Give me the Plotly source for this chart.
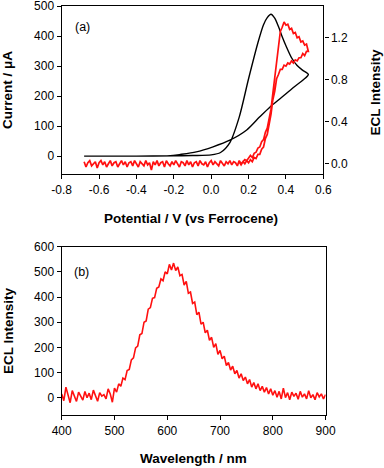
import plotly.graph_objects as go

# ---- (a) cyclic voltammogram, black (left axis, uA) ----
cv_potential = [-0.68, -0.40, -0.20, -0.10, 0.00, 0.05, 0.10, 0.15, 0.20, 0.25, 0.28,
                0.30, 0.32, 0.34, 0.36, 0.38, 0.40, 0.43, 0.46, 0.49, 0.52,
                0.49, 0.44, 0.37, 0.315, 0.26, 0.19, 0.10, 0.01, -0.08, -0.17,
                -0.22, -0.40, -0.68]
cv_current = [0, 0, 1, 2, 4, 12, 45, 130, 258, 378, 438,
              462, 473, 460, 432, 398, 368, 328, 302, 286, 272,
              253, 229, 192, 164, 131, 87, 53, 31, 14, 5,
              1, 0, 0]

# ---- (a) ECL vs potential, red (right axis) ----
ecl_fwd_start, ecl_step = -0.68, 0.01
ecl_fwd = [
    0.02, -0.03, 0.01, 0.03, -0.02, 0.00, 0.02, -0.04, 0.01, 0.03,
    -0.01, 0.02, -0.03, 0.00, 0.03, -0.02, 0.01, 0.02, -0.03, 0.00,
    0.03, -0.01, 0.02, -0.03, 0.01, 0.02, -0.02, 0.03, 0.00, -0.03,
    0.02, 0.00, -0.02, 0.03, -0.01, 0.01, -0.06, 0.02, -0.01, 0.03,
    -0.02, 0.01, 0.02, -0.03, 0.03, 0.00, -0.02, 0.02, -0.01, 0.03,
    0.00, -0.03, 0.02, 0.01, -0.02, 0.03, -0.01, 0.02, -0.03, 0.01,
    0.02, -0.02, 0.03, 0.00, -0.01, 0.02, -0.03, 0.01, 0.03, -0.01,
    0.02, 0.00, -0.02, 0.03, 0.01, -0.02, 0.02, 0.00, 0.03, -0.01,
    0.02, 0.01, -0.02, 0.03, 0.00, 0.02, 0.04, 0.03,
    0.05, 0.08, 0.06, 0.10, 0.11, 0.15, 0.16, 0.21, 0.23, 0.30,
    0.34, 0.44, 0.52, 0.67, 0.82, 1.01, 1.13, 1.26, 1.30, 1.35,
    1.32, 1.33, 1.28, 1.29, 1.24, 1.25, 1.20, 1.21, 1.16, 1.17,
    1.13, 1.14, 1.07]
ecl_rev_start = 0.51
ecl_rev = [
    1.07, 1.03, 1.05, 1.01, 1.01, 0.98, 0.99, 0.96, 0.98, 0.95,
    0.96, 0.93, 0.94, 0.90, 0.90, 0.85, 0.81, 0.69, 0.61, 0.47,
    0.39, 0.28, 0.24, 0.16, 0.14, 0.09, 0.09, 0.05, 0.06, 0.02,
    0.04, 0.01, 0.03, 0.00, 0.02, -0.01, 0.02]

# ---- (b) ECL spectrum ----
wl_start, wl_step = 400, 4
spectrum = [
    15, -12, 42, 5, -20, 28, 2, -15, 22, 8,
    -10, 25, 0, 18, -8, 30, 4, -14, 20, 6,
    12, -5, 35, 15, -18, 38, 22, 55, 45, 78,
    72, 108, 112, 150, 158, 198, 205, 250, 255, 300,
    305, 352, 358, 395, 398, 435, 440, 472, 465, 500,
    492, 530, 508, 535, 505, 520, 485, 490, 448, 462,
    415, 420, 375, 380, 330, 340, 292, 300, 258, 268,
    228, 240, 200, 215, 172, 188, 155, 165, 128, 140,
    110, 125, 95, 108, 78, 95, 68, 82, 55, 72,
    42, 60, 35, 55, 28, 45, 22, 40, 15, 35,
    10, 28, 2, 25, -5, 38, 0, 20, -8, 22,
    5, 18, -6, 25, 2, 15, -5, 28, 0, 12,
    -8, 20, 3, 15, -5, 12]

fwd_x = [round(ecl_fwd_start + i * ecl_step, 2) for i in range(len(ecl_fwd))]
rev_x = [round(ecl_rev_start - i * ecl_step, 2) for i in range(len(ecl_rev))]
wl = [wl_start + i * wl_step for i in range(len(spectrum))]

FONT = "Liberation Sans, Arial, sans-serif"
RED = "#ff1010"

fig = go.Figure()
fig.add_trace(go.Scatter(x=cv_potential, y=cv_current, mode="lines",
                         line=dict(color="black", width=1.4, shape="spline", smoothing=0.8),
                         xaxis="x", yaxis="y"))
fig.add_trace(go.Scatter(x=fwd_x + rev_x, y=ecl_fwd + ecl_rev, mode="lines",
                         line=dict(color=RED, width=1.7),
                         xaxis="x", yaxis="y2"))
fig.add_trace(go.Scatter(x=wl, y=spectrum, mode="lines",
                         line=dict(color=RED, width=1.6),
                         xaxis="x2", yaxis="y3"))

ax = dict(showline=True, linecolor="black", linewidth=1.4, ticks="outside",
          ticklen=4, tickwidth=1.2, tickcolor="black", showgrid=False,
          zeroline=False, automargin=False, ticklabeloverflow="allow",
          tickfont=dict(family=FONT, size=12, color="black"))

top_x = [-0.8, -0.6, -0.4, -0.2, 0.0, 0.2, 0.4, 0.6]
fig.update_layout(
    template="none",
    width=384, height=468, showlegend=False,
    plot_bgcolor="white", paper_bgcolor="white",
    margin=dict(l=0, r=0, t=0, b=0, pad=0),
    xaxis=dict(ax, domain=[0.1607, 0.842], anchor="y", range=[-0.8, 0.6001], mirror=True,
               tickvals=top_x, ticktext=[f"{v:.1f}".replace("-0.0", "0.0") for v in top_x]),
    yaxis=dict(ax, domain=[0.628, 0.987], anchor="x", range=[-60, 500.3],
               tickvals=[0, 100, 200, 300, 400, 500]),
    yaxis2=dict(ax, overlaying="y", side="right", anchor="x", range=[-0.098, 1.502],
                tickvals=[0, 0.4, 0.8, 1.2], ticktext=["0.0", "0.4", "0.8", "1.2"]),
    xaxis2=dict(ax, domain=[0.1607, 0.848], anchor="y3", range=[400, 900.1], mirror=True,
                tickvals=[400, 500, 600, 700, 800, 900]),
    yaxis3=dict(ax, domain=[0.1132, 0.4729], anchor="x2", range=[-69, 600.3], mirror=True,
                tickvals=[0, 100, 200, 300, 400, 500, 600]),
)

tfont = dict(family=FONT, size=13.5, color="black")
for text, x, y, ang in [
    ("<b>Current / μA</b>", 8 / 384, 1 - 90 / 468, -90),
    ("<b>ECL Intensity</b>", 375.5 / 384, 1 - 92 / 468, -90),
    ("<b>Potential / V (vs Ferrocene)</b>", 191 / 384, 1 - 218 / 468, 0),
    ("<b>ECL Intensity</b>", 8 / 384, 1 - 331 / 468, -90),
    ("<b>Wavelength / nm</b>", 193 / 384, 1 - 458 / 468, 0),
]:
    fig.add_annotation(text=text, x=x, y=y, xref="paper", yref="paper",
                       showarrow=False, textangle=ang, font=tfont,
                       xanchor="center", yanchor="middle")

for text, x, y in [("(a)", 73 / 384, 1 - 27 / 468), ("(b)", 72 / 384, 1 - 272 / 468)]:
    fig.add_annotation(text=text, x=x, y=y, xref="paper", yref="paper",
                       showarrow=False, font=dict(family=FONT, size=12.5, color="black"),
                       xanchor="left", yanchor="middle")

fig.write_html("out.html", config={"displayModeBar": False},
               post_script="document.body.style.margin='0';")
